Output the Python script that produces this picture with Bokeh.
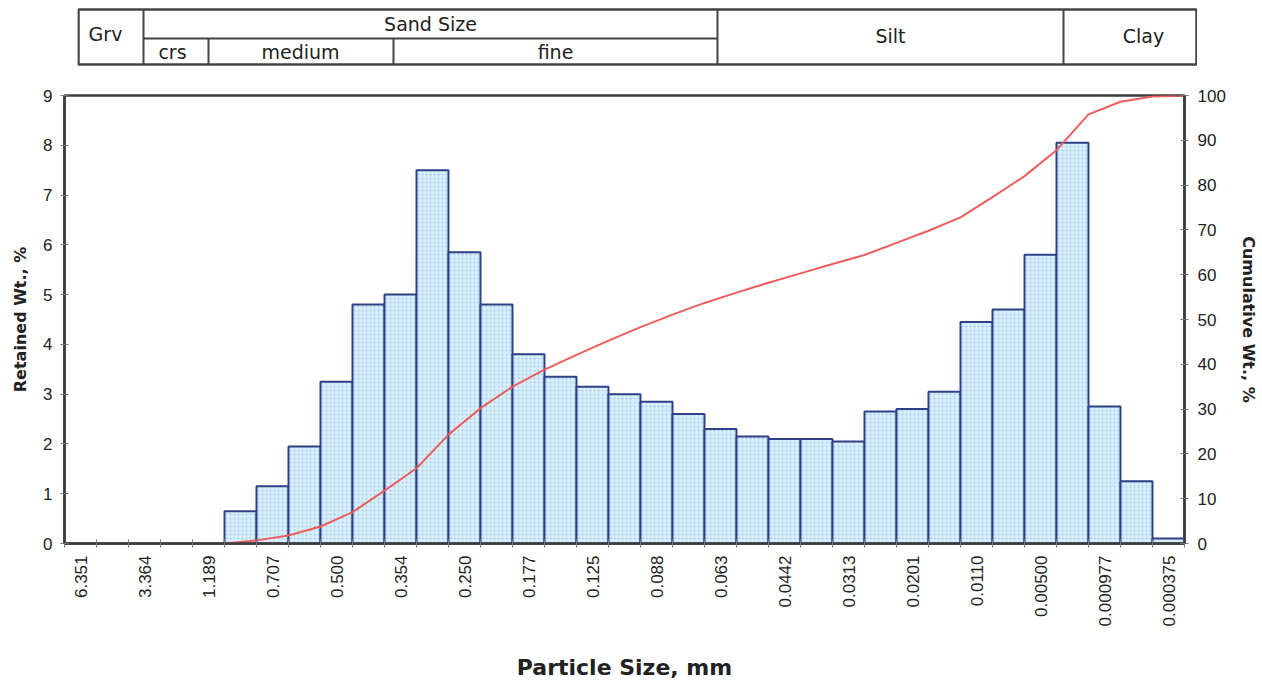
import numpy as np
from bokeh.plotting import figure
from bokeh.models import Range1d, LinearAxis, FixedTicker, SingleIntervalTicker, ColumnDataSource, Spacer
from bokeh.layouts import column, row
from bokeh.embed import file_html
from bokeh.resources import INLINE
from bokeh.core.properties import value

# ---------------- data ----------------
size_labels = ["6.351", "3.364", "1.189", "0.707", "0.500", "0.354", "0.250", "0.177",
               "0.125", "0.088", "0.063", "0.0442", "0.0313", "0.0201", "0.0110",
               "0.00500", "0.000977", "0.000375"]

retained = [0.65, 1.15, 1.95, 3.25, 4.8, 5.0, 7.5, 5.85, 4.8, 3.8,
            3.35, 3.15, 3.0, 2.85, 2.6, 2.3, 2.15, 2.1, 2.1, 2.05,
            2.65, 2.7, 3.05, 4.45, 4.7, 5.8, 8.05, 2.75, 1.25, 0.1]

cumulative = [0.0, 0.7, 1.8, 3.8, 7.0, 11.8, 16.8, 24.3, 30.2, 35.0, 38.8,
              42.1, 45.3, 48.3, 51.1, 53.7, 56.0, 58.2, 60.3, 62.4, 64.4,
              67.1, 69.8, 72.8, 77.3, 82.0, 87.8, 95.8, 98.6, 99.8, 100.0]

grain_top = ["Grv", "Sand Size", "Silt", "Clay"]
grain_sub = ["crs", "medium", "fine"]

n_slots = 2 * len(size_labels) - 1          # 35 sieve slots on the axis
first_slot = n_slots - len(retained)        # empty slots before first bar

FONT = "Liberation Sans"
WIDE = "DejaVu Sans"
AXIS_COL = "#3c3c3c"
TXT = "#222222"

# ---------------- header table ----------------
HW, HH = 1120, 68
hdr = figure(width=HW, height=HH, x_range=Range1d(0, HW), y_range=Range1d(HH, 0),
             output_backend="svg", toolbar_location=None,
             x_axis_type=None, y_axis_type=None, min_border=0)
hdr.outline_line_color = None

L, R, T, M, B = 1, 1119, 9, 38, 64
c_gs, c_cm, c_mf, c_ss, c_sc = 66, 131, 316, 640, 986
hdr.quad(left=[L], right=[R], top=[T], bottom=[B], fill_color=None,
         line_color="#444444", line_width=2.5)
hdr.segment(x0=[c_gs, c_ss, c_sc, c_gs, c_cm, c_mf],
            y0=[T, T, T, M, M, M],
            x1=[c_gs, c_ss, c_sc, c_ss, c_cm, c_mf],
            y1=[B, B, B, M, B, B],
            line_color="#444444", line_width=2)
hdr.text(x=[28, 353, 813, 1066], y=[33, 23, 35, 35], text=grain_top,
         text_font=value(WIDE), text_font_size="19px", text_color=TXT,
         text_align="center", text_baseline="middle")
hdr.text(x=[95, 223, 478], y=[51, 51, 51], text=grain_sub,
         text_font=value(WIDE), text_font_size="19px", text_color=TXT,
         text_align="center", text_baseline="middle")

# ---------------- main chart ----------------
p = figure(frame_width=1120, frame_height=448,
           x_range=Range1d(0, n_slots), y_range=Range1d(0, 9),
           output_backend="svg", toolbar_location=None,
           min_border_left=64, min_border_right=72, min_border_top=27, min_border_bottom=136)
p.extra_y_ranges = {"cum": Range1d(0, 100)}
p.grid.visible = False
p.outline_line_color = AXIS_COL
p.outline_line_width = 2.5

slots = np.arange(first_slot, first_slot + len(retained))
bars = ColumnDataSource(dict(left=slots, right=slots + 1, top=retained))
p.quad(left="left", right="right", bottom=0, top="top", source=bars,
       fill_color="#d8eefa", line_color="#2f4087", line_width=2,
       hatch_pattern="dot", hatch_color="#8dbfe0", hatch_scale=4, hatch_weight=1.2,
       hatch_alpha=0.7)

cx = np.arange(first_slot, first_slot + len(cumulative))
p.line(cx, cumulative, y_range_name="cum", line_color="#ee5d5d", line_width=2)

# x axis
xa = p.xaxis[0]
xa.ticker = FixedTicker(ticks=[2 * i + 0.5 for i in range(len(size_labels))],
                        minor_ticks=list(range(n_slots + 1)))
xa.major_label_overrides = {2 * i + 0.5: s for i, s in enumerate(size_labels)}
xa.major_label_orientation = np.pi / 2
xa.major_tick_in = 0
xa.major_tick_out = 0
xa.minor_tick_in = 4
xa.minor_tick_out = 4
xa.minor_tick_line_color = "#777777"
xa.major_label_standoff = 8
xa.axis_label = "Particle Size, mm"
xa.axis_label_standoff = 26

# left axis
ya = p.yaxis[0]
ya.ticker = SingleIntervalTicker(interval=1)
ya.axis_label = "Retained Wt., %"
ya.axis_label_standoff = 10
ya.major_label_standoff = 8

# right axis
ra = LinearAxis(y_range_name="cum", ticker=SingleIntervalTicker(interval=10),
                axis_label="Cumulative Wt., %")
ra.axis_label_standoff = 10
ra.major_label_standoff = 9
p.add_layout(ra, "right")

for ax in [xa, ya, ra]:
    ax.axis_line_color = AXIS_COL
    ax.axis_line_width = 2.5
    ax.major_label_text_font = FONT
    ax.major_label_text_font_size = "17px"
    ax.major_label_text_color = TXT
    ax.axis_label_text_font_style = "bold"
    ax.axis_label_text_color = TXT
    ax.axis_label_text_font = WIDE
for ax in [ya, ra]:
    ax.major_tick_in = 4
    ax.major_tick_out = 4
    ax.major_tick_line_color = "#777777"
    ax.minor_tick_line_color = None
xa.axis_label_text_font_size = "22px"
ya.axis_label_text_font_size = "16px"
ra.axis_label_text_font_size = "16px"

layout = column(row(Spacer(width=77, height=HH), hdr), p, spacing=0)
open("out.html", "w").write(file_html(layout, INLINE))
